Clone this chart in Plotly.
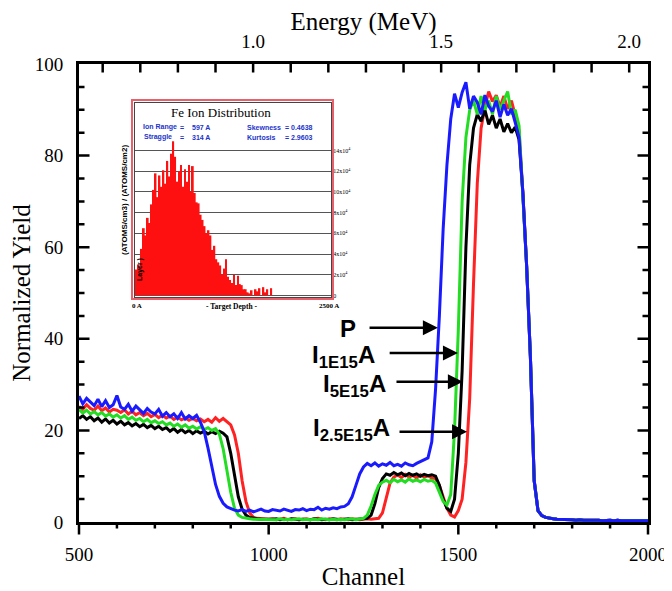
import plotly.graph_objects as go

# ---------------- data ----------------
channel = list(range(500, 2010, 10))

tail = [9.0, 2.5, 1.4, 1.0, 0.8, 0.7, 0.6, 0.6, 0.5, 0.5,
        0.5, 0.4, 0.5, 0.4, 0.4, 0.5, 0.4, 0.4, 0.3, 0.4,
        0.4, 0.3, 0.4, 0.3, 0.3, 0.4, 0.3, 0.3, 0.3, 0.3, 0.3]

yield_P = [
    27.5, 25.8, 27.0, 26.2, 25.4, 26.8, 25.2, 26.5, 25.0, 25.6,
    27.6, 25.1, 24.6, 25.7, 24.2, 25.3, 24.6, 23.7, 24.8, 24.0,
    23.6, 24.6, 23.1, 23.9, 23.0, 23.6, 22.6, 23.9, 22.5, 23.2,
    22.6, 23.3, 21.8, 19.8, 16.2, 12.0, 8.2, 5.6, 4.1, 3.3,
    2.9, 2.6, 2.4, 2.7, 2.3, 2.6, 2.2, 2.5, 2.8, 2.4,
    2.3, 2.7, 2.5, 2.4, 2.8, 2.5, 2.3, 2.7, 2.6, 2.9,
    2.5, 2.8, 2.7, 3.2, 2.6, 3.0, 2.8, 3.1, 2.9, 3.3,
    3.4, 4.0, 5.5, 8.0, 10.5, 12.0, 12.8, 12.3, 12.9, 12.2,
    12.7, 12.4, 13.0, 12.3, 12.6, 12.2, 12.9, 12.5, 12.3, 12.8,
    13.2, 13.6, 14.0, 17.5, 29.0, 45.0, 64.0, 78.0, 88.0, 93.5,
    90.5, 93.8, 96.0, 90.2, 93.0, 91.6, 89.0, 93.2, 90.8, 89.6,
    92.0, 88.4, 91.2, 88.8, 90.2, 87.2, 84.0, 72.0, 56.0, 36.0,
] + tail

yield_I25 = [
    25.2, 24.6, 25.6, 24.8, 24.4, 25.3, 24.3, 24.9, 24.0, 24.6,
    24.4, 23.9, 24.5, 23.6, 24.2, 23.4, 23.9, 23.2, 23.7, 23.0,
    23.5, 22.8, 23.3, 22.7, 23.1, 22.4, 22.9, 22.3, 22.7, 22.2,
    22.6, 22.1, 22.5, 21.9, 22.4, 21.8, 22.8, 22.0, 22.6, 21.8,
    21.2, 19.0, 15.0, 9.0, 4.5, 2.0, 1.0, 0.8, 0.7, 0.6,
    0.6, 0.7, 0.5, 0.6, 0.8, 0.5, 0.6, 0.7, 0.5, 0.6,
    0.7, 0.5, 0.6, 0.8, 0.6, 0.5, 0.7, 0.6, 0.5, 0.7,
    0.6, 0.5, 0.7, 0.6, 0.5, 0.6, 0.7, 0.6, 0.7, 0.8,
    2.0, 5.0, 8.5, 9.8, 10.3, 9.7, 10.4, 9.8, 10.2, 9.6,
    10.3, 9.8, 10.1, 9.6, 9.5, 8.0, 5.5, 3.0, 1.5, 1.1,
    2.5, 5.0, 13.0, 27.0, 52.0, 74.0, 86.0, 90.5, 94.0, 91.8,
    93.2, 90.6, 93.0, 90.2, 92.0, 89.0, 85.5, 72.0, 56.0, 36.0,
] + tail

yield_I5 = [
    22.6, 23.2, 22.4, 23.0, 22.1, 22.7, 21.8, 22.5, 21.6, 22.2,
    21.4, 22.0, 21.2, 21.7, 21.0, 21.5, 20.8, 21.3, 20.6, 21.1,
    20.4, 20.9, 20.2, 20.6, 19.8, 20.4, 19.6, 20.2, 19.5, 20.0,
    19.3, 19.9, 19.4, 19.8, 19.2, 19.7, 19.3, 19.8, 19.4, 18.6,
    15.0, 10.0, 5.5, 2.8, 1.5, 1.0, 0.8, 0.7, 0.6, 0.6,
    0.5, 0.6, 0.7, 0.5, 0.6, 0.5, 0.7, 0.6, 0.5, 0.6,
    0.6, 0.5, 0.7, 0.6, 0.5, 0.6, 0.5, 0.7, 0.6, 0.5,
    0.6, 0.7, 0.5, 0.6, 0.6, 0.7, 0.8, 1.5, 4.0, 7.5,
    9.5, 10.5, 10.2, 10.8, 10.3, 10.7, 10.1, 10.6, 10.2, 10.5,
    10.0, 10.4, 10.1, 10.3, 10.0, 8.0, 5.0, 3.0, 2.3, 5.0,
    15.0, 33.0, 60.0, 78.0, 86.0, 89.0, 87.5, 90.0, 86.8, 88.8,
    86.0, 88.0, 85.2, 87.0, 85.0, 86.2, 83.5, 72.0, 56.0, 36.0,
] + tail

yield_I1 = [
    24.6, 23.8, 24.4, 23.6, 24.1, 23.4, 23.9, 23.1, 23.6, 22.9,
    23.4, 22.7, 23.2, 22.4, 22.9, 22.2, 22.6, 21.9, 22.4, 21.7,
    22.1, 21.5, 21.9, 21.2, 21.6, 20.9, 21.4, 20.7, 21.2, 20.5,
    20.9, 20.3, 20.8, 20.2, 20.6, 20.0, 20.4, 19.2, 16.0, 11.0,
    6.5, 3.0, 1.5, 1.0, 0.8, 0.7, 0.6, 0.6, 0.5, 0.6,
    0.5, 0.6, 0.5, 0.7, 0.5, 0.6, 0.5, 0.6, 0.7, 0.5,
    0.6, 0.5, 0.6, 0.5, 0.7, 0.6, 0.5, 0.6, 0.5, 0.6,
    0.5, 0.6, 0.7, 0.5, 0.6, 0.8, 1.5, 3.5, 6.0, 8.0,
    8.7, 9.1, 8.6, 9.3, 8.8, 9.2, 8.7, 9.4, 8.9, 9.2,
    8.8, 9.3, 8.9, 9.1, 8.5, 6.5, 4.5, 3.7, 6.0, 20.0,
    42.0, 70.0, 84.0, 90.0, 92.0, 89.0, 93.0, 90.0, 92.0, 89.0,
    93.0, 90.0, 92.0, 94.0, 89.0, 90.0, 86.5, 72.0, 56.0, 36.0,
] + tail

series_names = ["I<sub>2.5E15</sub>A", "I<sub>5E15</sub>A", "I<sub>1E15</sub>A", "P"]
series_colors = ["#ff2222", "#000000", "#22dd22", "#1a1aff"]
series_values = [yield_I25, yield_I5, yield_I1, yield_P]

# inset: Fe ion distribution (units of 1e4 atoms/cm3 / atoms/cm2), 25 A bins
depth_bins = [12.5 + 25 * i for i in range(70)]
ion_counts = [
    2.5, 3.0, 2.8, 4.5, 6.5, 5.8, 7.5, 7.0, 8.8, 10.2,
    11.8, 9.5, 11.6, 10.5, 12.1, 10.8, 13.0, 11.5, 13.7, 14.9,
    13.4, 11.0, 12.0, 12.6, 10.5, 12.2, 11.0, 12.6, 10.0, 12.5,
    9.9, 9.0, 8.9, 7.8, 7.3, 6.7, 6.0, 6.3, 5.8, 4.4,
    4.8, 3.5, 3.2, 2.9, 2.0, 2.6, 3.5, 1.8, 1.5, 1.2,
    2.0, 1.0, 1.9, 1.1, 1.0, 0.6, 0.6, 0.3, 0.2, 0.5,
    0.0, 0.6, 0.4, 0.7, 0.0, 0.8, 0.3, 0.6, 0.0, 0.7,
]
inset_tickvals = [0, 2, 4, 6, 8, 10, 12, 14]
inset_ticktext = ["0"] + [f"{v}x10<sup>4</sup>" for v in inset_tickvals[1:]]

channel_range = [500, 2000]
yield_range = [0, 100]
energy_range = [0.537, 2.05]
channel_ticks = list(range(500, 2001, 100))                    # labelled every 500
energy_ticks = [round(0.6 + 0.1 * i, 1) for i in range(15)]   # labelled every 0.5
yield_ticks = list(range(5, 100, 5))                           # labelled every 20

# ---------------- geometry (screenshot pixels) ----------------
OFF = 8                                # page body margin
L, R, T, B = 79, 648, 64, 522          # main plot frame
FW, FH = 672 - OFF, 591 - OFF
W, H = R - L, B - T
def px(x): return (x - L) / W
def py(y): return (B - y) / H

serif = "Liberation Serif"
sans = "Liberation Sans"
tickfont = dict(family=serif, size=19, color="black")
titlefont = dict(family=serif, size=25, color="black")

# ---------------- figure ----------------
fig = go.Figure()
for name, col, vals in zip(series_names, series_colors, series_values):
    fig.add_trace(go.Scatter(x=channel, y=vals, mode="lines", name=name,
                             line=dict(color=col, width=3), showlegend=False))

fig.add_trace(go.Scatter(x=energy_range, y=[None, None], xaxis="x2", yaxis="y",
                         mode="lines", showlegend=False, hoverinfo="skip"))

fig.add_trace(go.Bar(x=depth_bins, y=ion_counts, xaxis="x3", yaxis="y3",
                     marker=dict(color="#ff1010", line=dict(width=0)),
                     showlegend=False))

fig.update_layout(
    width=FW, height=FH,
    margin=dict(l=L - OFF, r=FW + OFF - R, t=T - OFF, b=FH + OFF - B),
    paper_bgcolor="white", plot_bgcolor="white",
    bargap=0.1,
    xaxis=dict(range=channel_range, tickvals=[500, 1000, 1500, 2000], ticks="",
               ticklabelstandoff=13, showline=True, linewidth=3,
               linecolor="black", mirror=True, showgrid=False, zeroline=False,
               automargin=False, tickfont=tickfont,
               title=dict(text="Channel", font=titlefont, standoff=4)),
    xaxis2=dict(range=energy_range, overlaying="x", side="top", anchor="y",
                tickvals=[1.0, 1.5, 2.0], tickformat=".1f", ticks="",
                ticklabelstandoff=5, showline=True, linewidth=3,
                linecolor="black", showgrid=False, zeroline=False,
                automargin=False, tickfont=tickfont,
                title=dict(text="Energy (MeV)", font=titlefont, standoff=20)),
    yaxis=dict(range=yield_range, tickvals=[0, 20, 40, 60, 80, 100],
               ticks="", ticklabelstandoff=9, showline=True, linewidth=3, linecolor="black",
               mirror=True, showgrid=False, zeroline=False,
               automargin=False, tickfont=tickfont,
               title=dict(text="Normalized Yield", font=titlefont, standoff=12)),
    xaxis3=dict(domain=[px(135), px(331)], anchor="y3", range=[0, 2500],
                showline=True, mirror=True, linecolor="#444444", linewidth=1,
                showgrid=False, zeroline=False, ticks="",
                showticklabels=False, automargin=False),
    yaxis3=dict(domain=[py(297), py(103)], anchor="x3", range=[-0.15, 18.6],
                side="right", showline=True, mirror=True, linecolor="#444444", linewidth=1,
                showgrid=True, gridcolor="#555555", gridwidth=1, zeroline=False,
                tickvals=inset_tickvals, ticktext=inset_ticktext, ticks="",
                automargin=False,
                tickfont=dict(family=serif, size=6, color="black")),
)

# inset outer border
fig.add_shape(type="rect", xref="paper", yref="paper",
              x0=px(132), x1=px(333), y0=py(299), y1=py(100),
              line=dict(color="#e8606a", width=2), fillcolor="rgba(0,0,0,0)", layer="above")

ann = []

# tick marks as head-less annotation arrows (tail offset in pixels)
def tick(xp, yp, dx, dy):
    ann.append(dict(x=xp, y=yp, xref="paper", yref="paper", ax=dx, ay=dy, text="",
                    showarrow=True, arrowhead=0, arrowwidth=2.5, arrowcolor="black",
                    standoff=0, startstandoff=0))

for v in channel_ticks:                      # bottom, outside
    tick((v - channel_range[0]) / (channel_range[1] - channel_range[0]), 0,
         0, 14 if v % 500 == 0 else 8)
for e in energy_ticks:                       # top, inside
    tick((e - energy_range[0]) / (energy_range[1] - energy_range[0]), 1, 0, 10)
for v in yield_ticks:                        # left and right, inside
    ln = 12 if v % 20 == 0 else 7
    yp = (v - yield_range[0]) / (yield_range[1] - yield_range[0])
    tick(0, yp, ln, 0)
    tick(1, yp, -ln, 0)

def txt(x, y, s, size, color="black", family=sans, xanchor="left", angle=0, bold=True):
    ann.append(dict(x=px(x), y=py(y), xref="paper", yref="paper", text=f"<b>{s}</b>" if bold else s,
                    showarrow=False, xanchor=xanchor, yanchor="middle", textangle=angle,
                    font=dict(family=family, size=size, color=color)))

# inset texts
txt(221, 113, "Fe Ion Distribution", 13, family=serif, xanchor="center", bold=False)
blue_t = "#2233cc"
txt(141, 127, "Ion Range", 7, blue_t)
txt(182, 127, "=", 7, blue_t, xanchor="center")
txt(190, 127, "597 A", 7, blue_t)
txt(142, 137, "Straggle", 7, blue_t)
txt(182, 137, "=", 7, blue_t, xanchor="center")
txt(190, 137, "314 A", 7, blue_t)
txt(245, 127, "Skewness", 7, blue_t)
txt(283, 127, "= 0.4638", 7, blue_t)
txt(245, 137, "Kurtosis", 7, blue_t)
txt(283, 137, "= 2.9603", 7, blue_t)
txt(124, 200, "(ATOMS/cm3) / (ATOMS/cm2)", 8, xanchor="center", angle=-90)
txt(140, 270, "Layer )", 7, xanchor="center", angle=-90)
txt(137, 306, "0 A", 7, family=serif, xanchor="center")
txt(232, 306, "- Target Depth -", 7.5, family=serif, xanchor="center")
txt(329, 306, "2500 A", 7, family=serif, xanchor="center")

# main labels with arrows
labels = [("P", 1236, 42.3, 1262, 1446, 42.4),
          ("I<sub>1E15</sub>A", 1286, 36.2, 1315, 1499, 36.9),
          ("I<sub>5E15</sub>A", 1315, 29.9, 1333, 1512, 30.6),
          ("I<sub>2.5E15</sub>A", 1325, 20.1, 1341, 1523, 19.7)]
for s, tx, ty, a0, a1, ay in labels:
    ann.append(dict(x=tx, y=ty, xref="x", yref="y", text=f"<b>{s}</b>", showarrow=False,
                    xanchor="right", yanchor="middle",
                    font=dict(family=sans, size=24, color="black")))
    ann.append(dict(x=a1, y=ay, ax=a0, ay=ay, xref="x", yref="y", axref="x", ayref="y",
                    text="", showarrow=True, arrowhead=2, arrowsize=1.2, arrowwidth=2.5,
                    arrowcolor="black"))

fig.update_layout(annotations=ann)
fig.write_html("out.html")
